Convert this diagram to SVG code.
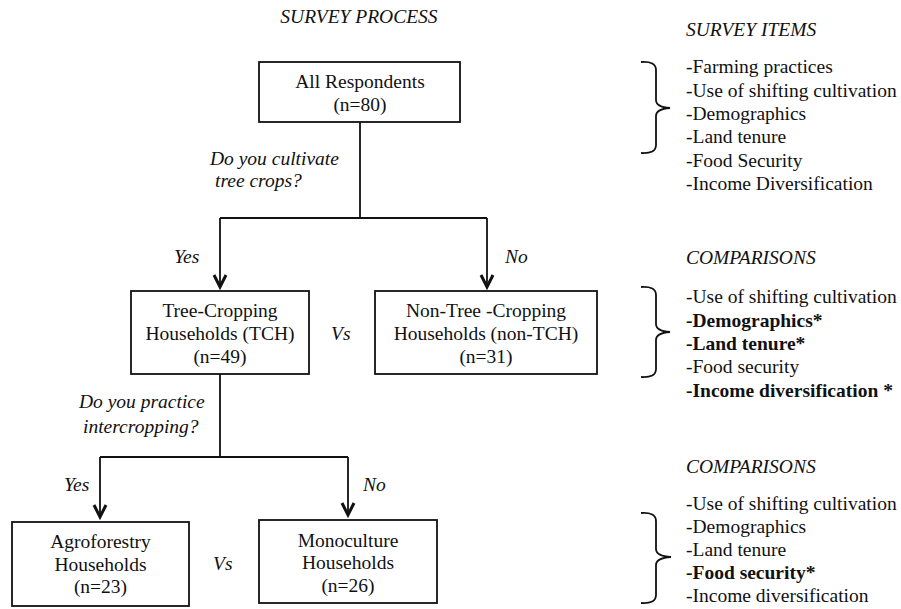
<svg xmlns="http://www.w3.org/2000/svg" width="901" height="609" viewBox="0 0 901 609">
<style>
text{font-family:"Liberation Serif","Times New Roman",serif;font-size:19.5px;fill:#111}
.it{font-style:italic}
.b{font-weight:bold}
.c{text-anchor:middle}
.box{fill:#fff;stroke:#111;stroke-width:1.8}
.ln{fill:none;stroke:#111;stroke-width:1.8}
.br{fill:none;stroke:#111;stroke-width:1.8}
</style>
<defs>
<marker id="ah" markerUnits="userSpaceOnUse" markerWidth="24" markerHeight="24" viewBox="-18 -12 24 24" refX="0" refY="0" orient="auto">
<path d="M-12,-6 L0,0 L-12,6" fill="none" stroke="#111" stroke-width="3"/>
</marker>
</defs>
<rect width="901" height="609" fill="#fff"/>
<text class="it c" x="359" y="23">SURVEY PROCESS</text>
<g id="connectors">
<path class="ln" d="M360,122 V218 M220,218 H487 M100,457 H348 M220,374 V457"/>
<path class="ln" d="M220,218 V287" marker-end="url(#ah)"/>
<path class="ln" d="M487,218 V287" marker-end="url(#ah)"/>
<path class="ln" d="M100,457 V517" marker-end="url(#ah)"/>
<path class="ln" d="M348,457 V515" marker-end="url(#ah)"/>
<text class="it" x="210" y="165">Do you cultivate</text>
<text class="it" x="215" y="187">tree crops?</text>
<text class="it" x="174" y="263">Yes</text>
<text class="it" x="505" y="263">No</text>
<text class="it" x="331" y="340">Vs</text>
<text class="it" x="79" y="408">Do you practice</text>
<text class="it" x="83" y="433">intercropping?</text>
<text class="it" x="64" y="491">Yes</text>
<text class="it" x="363" y="491">No</text>
<text class="it" x="213" y="570">Vs</text>
</g>
<g id="n1">
<rect class="box" x="259" y="62" width="201" height="60"/>
<text class="c" x="360" y="88">All Respondents</text>
<text class="c" x="360" y="111">(n=80)</text>
</g>
<g id="n2">
<rect class="box" x="131" y="291" width="178" height="83"/>
<text class="c" x="220" y="317">Tree-Cropping</text>
<text class="c" x="220" y="340">Households (TCH)</text>
<text class="c" x="220" y="363">(n=49)</text>
</g>
<g id="n3">
<rect class="box" x="375" y="291" width="222" height="83"/>
<text class="c" x="486" y="317">Non-Tree -Cropping</text>
<text class="c" x="486" y="340">Households (non-TCH)</text>
<text class="c" x="486" y="363">(n=31)</text>
</g>
<g id="n4">
<rect class="box" x="12" y="522" width="177" height="84"/>
<text class="c" x="100.5" y="548">Agroforestry</text>
<text class="c" x="100.5" y="571">Households</text>
<text class="c" x="100.5" y="593">(n=23)</text>
</g>
<g id="n5">
<rect class="box" x="259" y="520" width="178" height="83"/>
<text class="c" x="348" y="547">Monoculture</text>
<text class="c" x="348" y="569">Households</text>
<text class="c" x="348" y="592">(n=26)</text>
</g>
<g id="items">
<text class="it" x="686" y="36">SURVEY ITEMS</text>
<path class="br" d="M641,62 Q656,61 656,70 V100 Q656,107 670,108 Q656,109 656,116 V145 Q656,154 641,153"/>
<text x="686" y="73">-Farming practices</text>
<text x="686" y="96.5">-Use of shifting cultivation</text>
<text x="686" y="120">-Demographics</text>
<text x="686" y="143">-Land tenure</text>
<text x="686" y="167">-Food Security</text>
<text x="686" y="190">-Income Diversification</text>
</g>
<g id="comp1">
<text class="it" x="686" y="264">COMPARISONS</text>
<path class="br" d="M641,287 Q656,286 656,295 V324 Q656,331 670,332 Q656,333 656,340 V369 Q656,378 641,377"/>
<text x="686" y="303">-Use of shifting cultivation</text>
<text class="b" x="686" y="326.5">-Demographics*</text>
<text class="b" x="686" y="350">-Land tenure*</text>
<text x="686" y="373">-Food security</text>
<text class="b" x="686" y="397">-Income diversification *</text>
</g>
<g id="comp2">
<text class="it" x="686" y="473">COMPARISONS</text>
<path class="br" d="M641,513 Q656,512 656,521 V549 Q656,556 671,557 Q656,558 656,565 V595 Q656,604 641,603"/>
<text x="686" y="510">-Use of shifting cultivation</text>
<text x="686" y="533">-Demographics</text>
<text x="686" y="556">-Land tenure</text>
<text class="b" x="686" y="579">-Food security*</text>
<text x="686" y="602">-Income diversification</text>
</g>
</svg>
